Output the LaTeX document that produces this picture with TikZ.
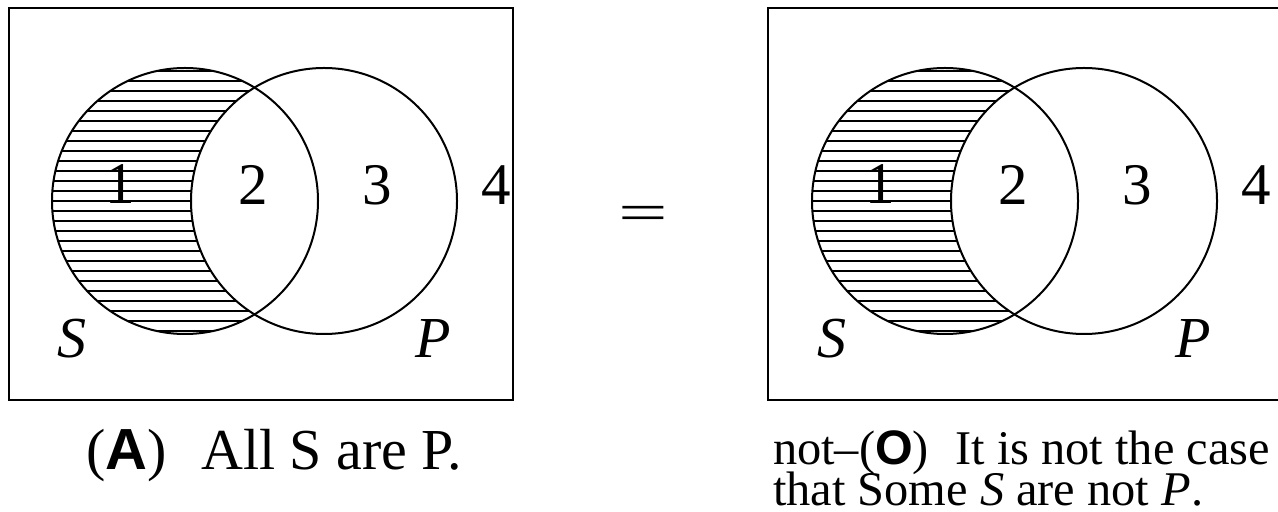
\documentclass[tikz,border=0pt]{standalone}
\usepackage{fontspec}
\setmainfont{Liberation Serif}
\newfontfamily\capsans{Liberation Sans}
\begin{document}
\begin{tikzpicture}[x=0.5pt,y=-0.5pt,line width=1pt,
  numlbl/.style={anchor=base,inner sep=0pt,font=\fontsize{29.5}{30}\selectfont},
  setlbl/.style={anchor=base,inner sep=0pt,font=\fontsize{29}{30}\selectfont\itshape},
  hatchline/.style={line width=0.95pt},
  ring/.style={draw,line width=1pt},
  bigcap/.style={anchor=base west,inner sep=0pt,font=\fontsize{29}{30}\selectfont},
  smallcap/.style={anchor=base west,inner sep=0pt,font=\fontsize{24.2}{20}\selectfont}]
\useasboundingbox (0,0) rectangle (1278,512);
\clip (0,0) rectangle (1278,512);
% ---------- left panel ----------
\draw (9,8) rectangle (513,400);
\begin{scope}
  \clip (185,201) circle (133);
  \foreach \k in {0,...,26} \draw[hatchline] (40,71+10*\k) -- (330,71+10*\k);
\end{scope}
\fill[white] (324,201) circle (133);
\draw[ring] (185,201) circle (133);
\draw[ring] (324,201) circle (133);
\node[numlbl] (a1) at (120,204) {1};
\node[numlbl] (a2) at (253,205) {2};
\node[numlbl] (a3) at (377,205) {3};
\node[numlbl] (a4) at (496,205) {4};
\node[setlbl] (aS) at (72,358) {S};
\node[setlbl] (aP) at (433,358) {P};
\node[bigcap] (capA) at (85,470) {({\capsans\bfseries A})\hspace{0.6em}All S are P.};
% ---------- equals ----------
\node[anchor=base,inner sep=0pt,font=\fontsize{44}{44}\selectfont] (eq) at (643,231) {\scalebox{1}[0.6]{=}};
% ---------- right panel ----------
\begin{scope}[shift={(760,0)}]
  \draw (530,8) -- (8,8) -- (8,400) -- (530,400);
  \begin{scope}
    \clip (185,201) circle (133);
    \foreach \k in {0,...,26} \draw[hatchline] (40,71+10*\k) -- (330,71+10*\k);
  \end{scope}
  \fill[white] (324,201) circle (133);
  \draw[ring] (185,201) circle (133);
  \draw[ring] (324,201) circle (133);
  \node[numlbl] (b1) at (120,204) {1};
  \node[numlbl] (b2) at (253,205) {2};
  \node[numlbl] (b3) at (377,205) {3};
  \node[numlbl] (b4) at (496,205) {4};
  \node[setlbl] (bS) at (72,358) {S};
  \node[setlbl] (bP) at (433,358) {P};
  \node[smallcap] (capO1) at (12,465) {not–({\capsans\bfseries O})\hspace{0.55em}It is not the case};
  \node[smallcap] (capO2) at (12,505) {that Some \textit{S} are not \textit{P}.};
\end{scope}
\end{tikzpicture}
\end{document}
